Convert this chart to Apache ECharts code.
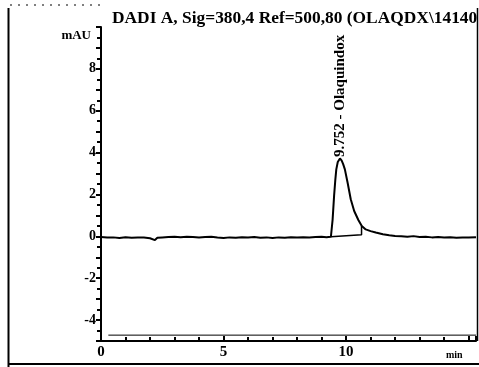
<!DOCTYPE html>
<html>
<head>
<meta charset="utf-8">
<script src="https://cdn.jsdelivr.net/npm/echarts@6/dist/echarts.min.js"></script>
<style>html,body{margin:0;padding:0;background:#fff}#c{width:479px;height:367px}</style>
</head>
<body>
<div id="c"></div>
<script>
var titleText = 'DADI A, Sig=380,4 Ref=500,80 (OLAQDX\\14140';
var peakLabel = '9.752 - Olaquindox';
var yTickLabels = [-4, -2, 0, 2, 4, 6, 8];
var xTickLabels = [0, 5, 10];
// chromatogram signal [min, mAU]
var signal = [
 [0,-0.03],[0.25,-0.06],[0.5,-0.05],[0.75,-0.08],[1.0,-0.04],[1.25,-0.07],[1.5,-0.05],[1.75,-0.06],
 [2.0,-0.09],[2.2,-0.18],[2.3,-0.07],[2.5,-0.05],[2.75,-0.03],[3.0,-0.02],[3.25,-0.04],[3.5,-0.02],
 [3.75,-0.03],[4.0,-0.05],[4.25,-0.03],[4.5,-0.02],[4.75,-0.06],[5.0,-0.08],[5.25,-0.05],[5.5,-0.07],
 [5.75,-0.04],[6.0,-0.06],[6.25,-0.03],[6.5,-0.07],[6.75,-0.05],[7.0,-0.08],[7.25,-0.05],[7.5,-0.07],
 [7.75,-0.04],[8.0,-0.06],[8.25,-0.04],[8.5,-0.05],[8.75,-0.03],[9.0,-0.02],[9.2,-0.04],[9.38,-0.02],
 [9.45,0.8],[9.51,1.93],[9.56,2.7],[9.60,3.2],[9.66,3.55],[9.75,3.72],[9.82,3.62],[9.88,3.45],
 [9.95,3.2],[10.06,2.57],[10.19,1.77],[10.33,1.21],[10.50,0.78],[10.64,0.49],[10.80,0.33],[11.0,0.25],
 [11.21,0.18],[11.5,0.1],[11.76,0.05],[12.0,0.02],[12.25,0.0],[12.5,-0.02],[12.75,0.01],[13.0,-0.03],
 [13.25,-0.02],[13.5,-0.05],[13.75,-0.03],[14.0,-0.06],[14.25,-0.04],[14.5,-0.07],[14.75,-0.05],[15.0,-0.06],[15.3,-0.04]
];
var peakApex = [9.75, 3.72];
var integrationBase = [[9.38,-0.02],[10.63,0.08],[10.63,0.49]];
var lowerLine = [[0.3,-4.72],[15.3,-4.72]];

var font = '"Liberation Serif","DejaVu Serif",serif';

var chart = echarts.init(document.getElementById('c'), null, { renderer: 'canvas' });
chart.setOption({
  animation: false,
  backgroundColor: '#fff',
  title: { text: titleText, left: 107, top: 5, textStyle: { fontFamily: font, fontWeight: 'bold', fontSize: 17.4, color: '#000' } },
  grid: { left: 101, right: 2, top: 27, bottom: 26 },
  xAxis: {
    type: 'value', min: 0, max: 15.3, interval: 5,
    name: 'min', nameLocation: 'end', nameGap: -30,
    nameTextStyle: { fontFamily: font, fontWeight: 'bold', fontSize: 10, color: '#000', verticalAlign: 'top', padding: [9, 0, 0, 0] },
    axisLine: { onZero: false, lineStyle: { color: '#000', width: 2 } },
    axisTick: { inside: true, length: 5, lineStyle: { color: '#000', width: 2 } },
    minorTick: { show: true, splitNumber: 5, length: 4, lineStyle: { color: '#000', width: 2 } },
    splitLine: { show: false },
    axisLabel: { fontFamily: font, fontWeight: 'bold', fontSize: 15, color: '#000', margin: 4,
      formatter: function (v) { return xTickLabels.indexOf(v) >= 0 ? String(v) : ''; } }
  },
  yAxis: {
    type: 'value', min: -5, max: 10, interval: 1,
    name: 'mAU', nameLocation: 'end', nameGap: -9,
    nameTextStyle: { fontFamily: font, fontWeight: 'bold', fontSize: 13, color: '#000', align: 'right', verticalAlign: 'middle', padding: [0, 10, 0, 0] },
    axisLine: { onZero: false, lineStyle: { color: '#000', width: 2 } },
    axisTick: { length: 5, lineStyle: { color: '#000', width: 2 } },
    minorTick: { show: true, splitNumber: 2, length: 4, lineStyle: { color: '#000', width: 2 } },
    splitLine: { show: false },
    axisLabel: { fontFamily: font, fontWeight: 'bold', fontSize: 14, color: '#000', margin: 5,
      formatter: function (v) { return yTickLabels.indexOf(v) >= 0 ? String(v) : ''; } }
  },
  series: [
    { type: 'line', data: signal, showSymbol: false, symbol: 'none', lineStyle: { color: '#000', width: 2 }, z: 5,
      markPoint: {
        symbol: 'circle', symbolSize: 1, itemStyle: { color: 'rgba(0,0,0,0)' },
        data: [{ coord: peakApex, value: peakLabel }],
        label: { show: true, formatter: peakLabel, rotate: 90, position: 'top',
          align: 'left', verticalAlign: 'middle', distance: 1, fontFamily: font, fontWeight: 'bold',
          fontSize: 15, color: '#000' }
      }
    },
    { type: 'line', data: integrationBase, symbol: 'none', lineStyle: { color: '#000', width: 1.5 } },
    { type: 'line', data: lowerLine, symbol: 'none', lineStyle: { color: '#000', width: 1 } }
  ],
  graphic: [
    { type: 'line', shape: { x1: 8.5, y1: 8, x2: 8.5, y2: 367 }, style: { stroke: '#000', lineWidth: 2 } },
    { type: 'line', shape: { x1: 10, y1: 5, x2: 100, y2: 5 }, style: { stroke: '#000', lineWidth: 1, lineDash: [2, 6] } },
    { type: 'line', shape: { x1: 477.5, y1: 8, x2: 477.5, y2: 341 }, style: { stroke: '#000', lineWidth: 1.5 } },
    { type: 'line', shape: { x1: 8, y1: 364, x2: 479, y2: 364 }, style: { stroke: '#000', lineWidth: 2 } }
  ]
});
</script>
</body>
</html>
